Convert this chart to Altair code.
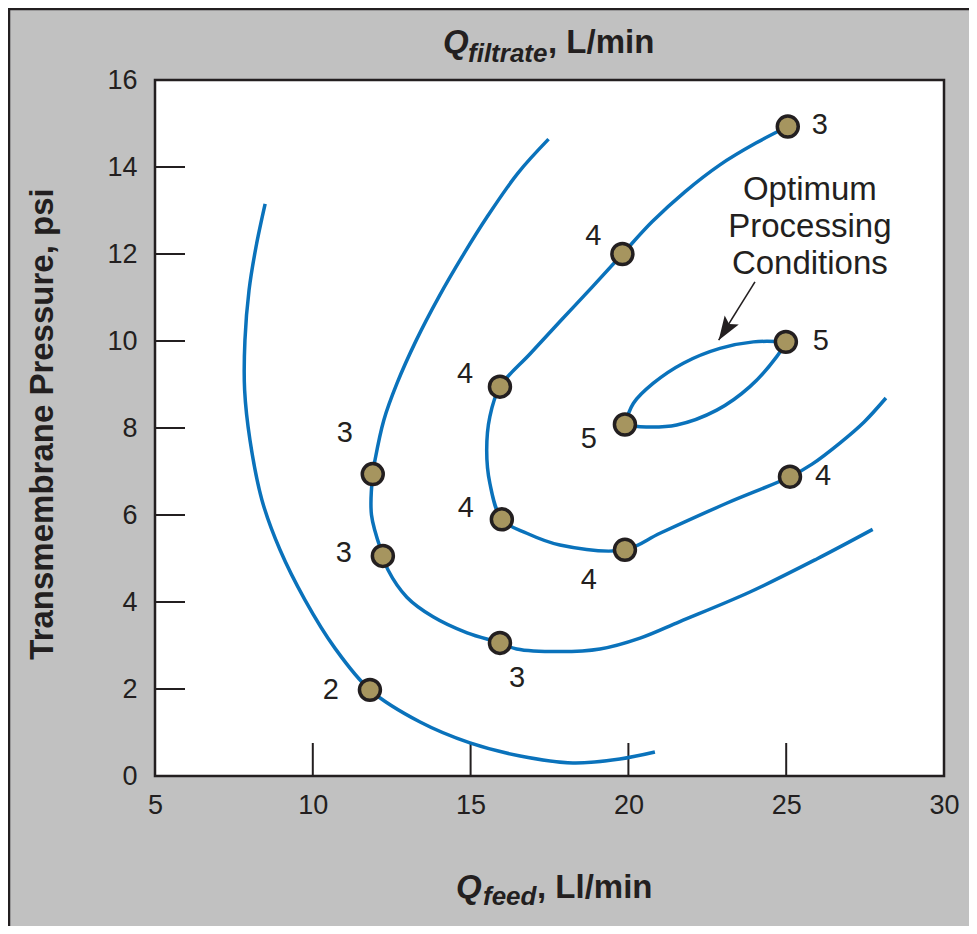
import altair as alt
import pandas as pd

FONT = "Liberation Sans, Arial, Helvetica, sans-serif"
DARK = "#231f20"
BLUE = "#0a72bb"
GOLD = "#a6955f"
GRAY = "#c1c1c1"

W, H = 789, 696
PAD_L, PAD_T, PAD_R, PAD_B = 147, 72, 25, 150

# ---------------- data ----------------
x_tick_labels = [5, 10, 15, 20, 25, 30]
y_tick_labels = [0, 2, 4, 6, 8, 10, 12, 14, 16]
inner_x_ticks = [10, 15, 20, 25]
inner_y_ticks = [2, 4, 6, 8, 10, 12, 14]

curve_a_x = [8.49, 8.2, 7.98, 7.85, 7.84, 8.01, 8.39, 8.96, 9.75, 10.7, 11.81, 13.4, 14.98, 16.57, 18.24, 19.73, 20.84]
curve_a_y = [13.15, 12.16, 11.17, 10.02, 8.87, 7.72, 6.34, 5.2, 4.05, 2.94, 1.98, 1.24, 0.76, 0.46, 0.3, 0.39, 0.55]

curve_b_x = [17.47, 16.5, 15.52, 14.8, 13.99, 13.28, 12.67, 12.25, 11.97, 11.90, 11.86, 12.22, 12.38, 12.98, 13.81, 14.89, 15.93, 16.46, 17.83, 19.1, 20.37, 21.63, 23.85, 25.97, 27.74]
curve_b_y = [14.64, 13.86, 12.85, 12.02, 11.01, 10.02, 9.03, 8.18, 7.26, 6.94, 6.0, 5.06, 4.74, 4.11, 3.66, 3.29, 3.06, 2.92, 2.86, 2.92, 3.17, 3.55, 4.23, 4.99, 5.67]

curve_c_x = [25.05, 24.04, 22.9, 21.79, 20.75, 19.81, 18.85, 17.86, 16.88, 15.93, 15.61, 15.51, 15.61, 15.99, 16.78, 17.83, 19.89, 21.0, 23.11, 25.12, 25.82, 26.71, 27.47, 28.16]
curve_c_y = [14.93, 14.55, 14.05, 13.43, 12.74, 12.0, 11.24, 10.47, 9.70, 8.95, 8.26, 7.49, 6.73, 5.9, 5.58, 5.31, 5.2, 5.58, 6.27, 6.88, 7.17, 7.66, 8.14, 8.69]

loop_upper_x = [19.89, 20.16, 20.79, 21.74, 22.9, 23.96, 24.99]
loop_upper_y = [8.08, 8.57, 9.03, 9.49, 9.83, 9.98, 9.98]
loop_lower_x = [24.99, 24.7, 23.85, 22.8, 21.53, 20.37, 19.89]
loop_lower_y = [9.98, 9.64, 8.95, 8.41, 8.07, 8.03, 8.08]

pt_x = [11.81, 11.90, 12.22, 15.93, 15.93, 15.99, 19.81, 19.89, 25.05, 25.12, 19.89, 24.99]
pt_y = [1.98, 6.94, 5.06, 3.06, 8.95, 5.90, 12.00, 5.20, 14.93, 6.88, 8.08, 9.98]
pt_label = ["2", "3", "3", "3", "4", "4", "4", "4", "3", "4", "5", "5"]

note_text = "Optimum\nProcessing\nConditions"
note_x = [25.75]
note_y = [13.47]
arrow_tail = [24.01, 11.36]
arrow_tip = [22.86, 10.02]

# ---------------- style ----------------
LABEL_OFFSETS = [(-39, 0), (-28, -41), (-39, -3), (17, 35), (-35, -13), (-36, -11),
                 (-29, -18), (-36, 30), (32, -2), (33, -1), (-36, 14), (35, -1)]

xs = alt.Scale(domain=[5, 30], nice=False, zero=False)
ys = alt.Scale(domain=[0, 16], nice=False, zero=False)
x_axis = alt.Axis(values=x_tick_labels, title=None, domain=False, ticks=False, grid=False,
                  labelFontSize=27, labelFont=FONT, labelColor=DARK, labelPadding=16,
                  labelFlush=False, labelOverlap=False)
y_axis = alt.Axis(values=y_tick_labels, title=None, domain=False, ticks=False, grid=False,
                  labelFontSize=27, labelFont=FONT, labelColor=DARK, labelPadding=18,
                  labelFlush=False, labelOverlap=False)


def X(f):
    return alt.X(f, type="quantitative", scale=xs, axis=x_axis)


def Y(f):
    return alt.Y(f, type="quantitative", scale=ys, axis=y_axis)


# lines
rows = []
for name, xv, yv in [("a", curve_a_x, curve_a_y), ("b", curve_b_x, curve_b_y),
                     ("c", curve_c_x, curve_c_y), ("lu", loop_upper_x, loop_upper_y),
                     ("ll", loop_lower_x, loop_lower_y)]:
    for i, (a, b) in enumerate(zip(xv, yv)):
        rows.append({"curve": name, "o": i, "x": a, "y": b})
lines_df = pd.DataFrame(rows)

lines = alt.Chart(lines_df).mark_line(color=BLUE, strokeWidth=3.5, interpolate="catmull-rom").encode(
    x=X("x"), y=Y("y"), detail="curve:N", order="o:Q")

pts_df = pd.DataFrame({"x": pt_x, "y": pt_y, "label": pt_label})
points = alt.Chart(pts_df).mark_point(filled=True, shape="circle", size=440, fill=GOLD,
                                      stroke=DARK, strokeWidth=3.5, opacity=1).encode(
    x=X("x"), y=Y("y"))

label_layers = []
for i, (dx, dy) in enumerate(LABEL_OFFSETS):
    d = pts_df.iloc[[i]]
    label_layers.append(alt.Chart(d).mark_text(font=FONT, fontSize=29, color=DARK, dx=dx, dy=dy,
                                                align="center", baseline="middle").encode(
        x=X("x"), y=Y("y"), text="label:N"))

xt = alt.Chart(pd.DataFrame({"v": inner_x_ticks})).mark_rule(color=DARK, strokeWidth=2).encode(
    x=X("v"), y=alt.value(H), y2=alt.value(H - 33))
yt = alt.Chart(pd.DataFrame({"v": inner_y_ticks})).mark_rule(color=DARK, strokeWidth=2).encode(
    y=Y("v"), x=alt.value(0), x2=alt.value(30))

note = alt.Chart(pd.DataFrame({"x": note_x, "y": note_y, "t": [note_text]})).mark_text(
    font=FONT, fontSize=33, color=DARK, lineBreak="\n", lineHeight=37,
    align="center", baseline="middle").encode(x=X("x"), y=Y("y"), text="t:N")

arrow_df = pd.DataFrame({"x1": [arrow_tail[0]], "y1": [arrow_tail[1]],
                         "x2": [arrow_tip[0]], "y2": [arrow_tip[1]]})
shaft = alt.Chart(arrow_df).mark_rule(color=DARK, strokeWidth=1.6).encode(
    x=X("x1"), y=Y("y1"), x2="x2", y2="y2")
head = alt.Chart(arrow_df).mark_point(shape="M0,0 L-0.7,-2 L0,-1.6 L0.7,-2 Z", filled=True,
                                      size=576, angle=33, color=DARK, opacity=1).encode(
    x=X("x2"), y=Y("y2"))

# outer frame edges (top and left) of the figure box
frame_top = alt.Chart(pd.DataFrame({"k": [0]})).mark_rule(color=DARK, strokeWidth=2.5).encode(
    x=alt.value(-PAD_L), x2=alt.value(W + PAD_R), y=alt.value(-PAD_T + 1), y2=alt.value(-PAD_T + 1))
frame_left = alt.Chart(pd.DataFrame({"k": [0]})).mark_rule(color=DARK, strokeWidth=2.5).encode(
    x=alt.value(-PAD_L + 1), x2=alt.value(-PAD_L + 1), y=alt.value(-PAD_T), y2=alt.value(H + PAD_B))


def txt(s, x, y, size, italic=False, bold=True, angle=0, align="left", baseline="alphabetic"):
    kw = dict(font=FONT, fontSize=size, color=DARK, fontWeight="bold" if bold else "normal",
              fontStyle="italic" if italic else "normal", align=align, baseline=baseline)
    if angle:
        kw["angle"] = angle
    return alt.Chart(pd.DataFrame({"t": [s]})).mark_text(**kw).encode(
        x=alt.value(x), y=alt.value(y), text="t:N")


titles = [
    txt("Q", 288, -27, 33, italic=True),
    txt("filtrate", 313, -18, 26, italic=True),
    txt(", L/min", 393, -27, 33),
    txt("Q", 301, 818, 33, italic=True),
    txt("feed", 328, 825, 26, italic=True),
    txt(", Ll/min", 382, 818, 33),
    txt("Transmembrane Pressure, psi", -112, 344, 33, angle=270, align="center", baseline="middle"),
]

chart = alt.layer(frame_top, frame_left, xt, yt, lines, points, *label_layers, shaft, head, note,
                  *titles).properties(
    width=W, height=H, background=GRAY,
    autosize=alt.AutoSizeParams(type="none"),
    padding={"left": PAD_L, "top": PAD_T, "right": PAD_R, "bottom": PAD_B},
).configure_view(fill="white", stroke=DARK, strokeWidth=2.5)

chart.save("out.html", embed_options={"renderer": "svg", "actions": False})
